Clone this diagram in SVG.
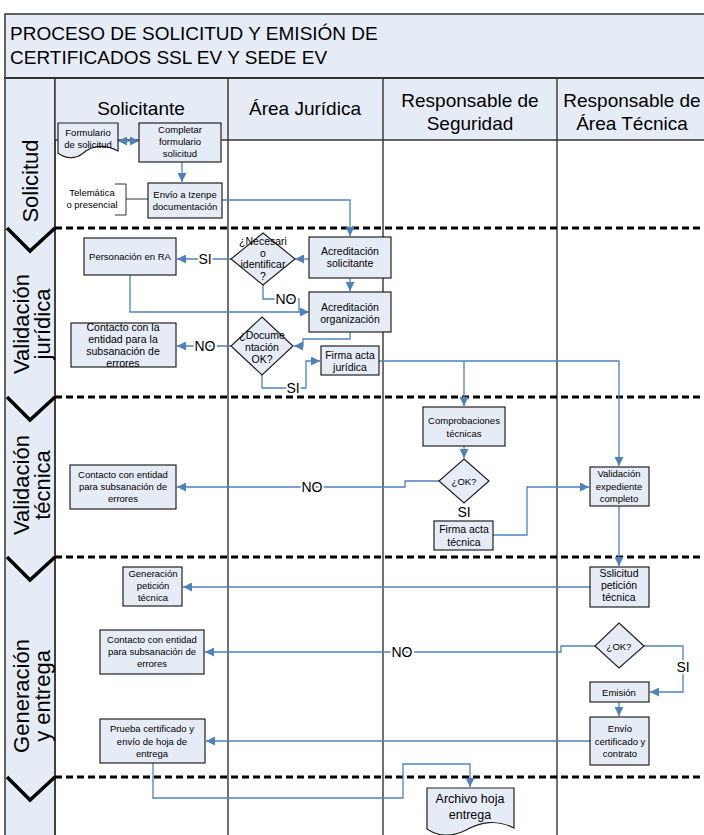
<svg xmlns="http://www.w3.org/2000/svg" width="704" height="835" viewBox="0 0 704 835">
<style>
text{font-family:"Liberation Sans",Arial,sans-serif;fill:#000}
.n{fill:#E6ECF6;stroke:#222;stroke-width:1.2}
.t{font-size:9.5px;text-anchor:middle}
.t10{font-size:10.5px;text-anchor:middle}
.c{fill:none;stroke:#4F81BD;stroke-width:1.3}
.lbl{font-size:14px;text-anchor:middle;stroke:#fff;stroke-width:4;paint-order:stroke;stroke-linejoin:round}
.dash{stroke:#000;stroke-width:3.2;stroke-dasharray:7 4;fill:none}
.col{stroke:#333;stroke-width:1.4}
.chev{fill:none;stroke:#000;stroke-width:3.5}
.hdr{font-size:19px;text-anchor:middle}
.stage{font-size:22px;text-anchor:middle}
</style>
<defs>
<marker id="a" viewBox="0 0 10 10" refX="10" refY="5" markerWidth="9" markerHeight="9" markerUnits="userSpaceOnUse" orient="auto-start-reverse">
<path d="M0,0 L10,5 L0,10 z" fill="#4F81BD"/>
</marker>
</defs>
<rect x="0" y="0" width="704" height="835" fill="#fff"/>
<g id="frame">
<rect x="5" y="14" width="705" height="64" fill="#E6ECF6" stroke="#333" stroke-width="1.5"/>
<text x="10" y="40" style="font-size:19px">PROCESO DE SOLICITUD Y EMISIÓN DE</text>
<text x="10" y="64" style="font-size:19px">CERTIFICADOS SSL EV Y SEDE EV</text>
<rect x="5" y="78" width="50" height="760" fill="#E6ECF6" stroke="#333" stroke-width="1.5"/>
<rect x="55" y="78" width="655" height="62" fill="#E6ECF6"/>
<line x1="5" y1="78" x2="704" y2="78" stroke="#333" stroke-width="2"/>
<line x1="55" y1="140" x2="704" y2="140" class="col"/>
<line x1="55" y1="78" x2="55" y2="835" class="col"/>
<line x1="228" y1="78" x2="228" y2="835" class="col"/>
<line x1="383" y1="78" x2="383" y2="835" class="col"/>
<line x1="557" y1="78" x2="557" y2="835" class="col"/>
<text x="141" y="115" class="hdr">Solicitante</text>
<text x="305" y="115" class="hdr">Área Jurídica</text>
<text x="470" y="107" class="hdr">Responsable de</text>
<text x="470" y="130" class="hdr">Seguridad</text>
<text x="632" y="107" class="hdr">Responsable de</text>
<text x="632" y="130" class="hdr">Área Técnica</text>
<line x1="55" y1="228" x2="704" y2="228" class="dash"/>
<line x1="55" y1="397" x2="704" y2="397" class="dash"/>
<line x1="55" y1="557" x2="704" y2="557" class="dash"/>
<line x1="55" y1="777" x2="704" y2="777" class="dash"/>
<path class="chev" d="M7,228 L30,251 L55,228"/>
<path class="chev" d="M7,397 L30,420 L55,397"/>
<path class="chev" d="M7,557 L30,580 L55,557"/>
<path class="chev" d="M7,777 L30,800 L55,777"/>
<text class="stage" transform="translate(38,181) rotate(-90)">Solicitud</text>
<text class="stage" transform="translate(29,324) rotate(-90)"><tspan x="0" dy="0">Validación</tspan><tspan x="0" dy="21">jurídica</tspan></text>
<text class="stage" transform="translate(29,485) rotate(-90)"><tspan x="0" dy="0">Validación</tspan><tspan x="0" dy="21">técnica</tspan></text>
<text class="stage" transform="translate(29,696) rotate(-90)"><tspan x="0" dy="0">Generación</tspan><tspan x="0" dy="21">y entrega</tspan></text>
</g>
<g id="connectors">
<path class="c" d="M118,141 H139" marker-start="url(#a)" marker-end="url(#a)"/>
<path class="c" d="M182,162 V182" marker-end="url(#a)"/>
<path class="c" d="M222,200 H350 V236" marker-end="url(#a)"/>
<path class="c" d="M309,259 H295" marker-end="url(#a)"/>
<path class="c" d="M231,259 H177" marker-end="url(#a)"/>
<path class="c" d="M130,275 V312 H309" marker-end="url(#a)"/>
<path class="c" d="M263,285 V299 H299 V312"/>
<path class="c" d="M350,278 V291" marker-end="url(#a)"/>
<path class="c" d="M350,332 V339 H303 V346 H294" marker-end="url(#a)"/>
<path class="c" d="M231,346 H177" marker-end="url(#a)"/>
<path class="c" d="M262,375 V388 H306 V361 H320" marker-end="url(#a)"/>
<path class="c" d="M379,361 H619 V466" marker-end="url(#a)"/>
<path class="c" d="M464,361 V406" marker-end="url(#a)"/>
<path class="c" d="M464,446 V458" marker-end="url(#a)"/>
<path class="c" d="M439,481 H405 V487 H177" marker-end="url(#a)"/>
<path class="c" d="M493,535 H527 V487 H589" marker-end="url(#a)"/>
<path class="c" d="M619,506 V566" marker-end="url(#a)"/>
<path class="c" d="M590,587 H183" marker-end="url(#a)"/>
<path class="c" d="M595,646 H561 V652 H205" marker-end="url(#a)"/>
<path class="c" d="M644,646 H683 V692 H650" marker-end="url(#a)"/>
<path class="c" d="M619,702 V716" marker-end="url(#a)"/>
<path class="c" d="M590,741 H206" marker-end="url(#a)"/>
<path class="c" d="M153,763 V798 H403 V764 H470 V787" marker-end="url(#a)"/>
<path d="M126,199 H148" stroke="#333" stroke-width="1" fill="none"/>
<text x="205" y="264" class="lbl">SI</text>
<text x="286" y="304" class="lbl">NO</text>
<text x="205" y="351" class="lbl">NO</text>
<text x="293" y="393" class="lbl">SI</text>
<text x="312" y="492" class="lbl">NO</text>
<text x="464" y="517" class="lbl">SI</text>
<text x="402" y="657" class="lbl">NO</text>
<text x="683" y="672" class="lbl">SI</text>
</g>
<g id="formulario">
<path class="n" d="M58,123 H118 V151 C102,143 90,147 82,154 C74,160 64,158 58,153 Z"/>
<text x="88" y="136" class="t">Formulario</text>
<text x="88" y="148" class="t">de solicitud</text>
</g>
<g id="completar">
<rect class="n" x="139" y="123" width="82" height="39"/>
<text x="180" y="133" class="t">Completar</text>
<text x="180" y="145" class="t">formulario</text>
<text x="180" y="157" class="t">solicitud</text>
</g>
<g id="telematica">
<path d="M115,184 H126 V215 H115" stroke="#333" stroke-width="1" fill="none"/>
<text x="92" y="196" class="t">Telemática</text>
<text x="92" y="208" class="t">o presencial</text>
</g>
<g id="envio">
<rect class="n" x="148" y="183" width="74" height="35"/>
<text x="185" y="198" class="t">Envío a Izenpe</text>
<text x="185" y="210" class="t">documentación</text>
</g>
<g id="acred-sol">
<rect class="n" x="309" y="237" width="82" height="41"/>
<text x="350" y="255" class="t10">Acreditación</text>
<text x="350" y="267" class="t10">solicitante</text>
</g>
<g id="dec-identificar">
<polygon class="n" points="263,233 295,259 263,285 231,259"/>
<text x="263" y="245" class="t10">¿Necesari</text>
<text x="263" y="257" class="t10">o</text>
<text x="263" y="268" class="t10">identificar</text>
<text x="263" y="280" class="t10">?</text>
</g>
<g id="personacion">
<rect class="n" x="84" y="238" width="92" height="37"/>
<text x="130" y="260" class="t">Personación en RA</text>
</g>
<g id="acred-org">
<rect class="n" x="309" y="292" width="82" height="40"/>
<text x="350" y="311" class="t10">Acreditación</text>
<text x="350" y="323" class="t10">organización</text>
</g>
<g id="dec-documentacion">
<polygon class="n" points="262,317 293,346 262,375 231,346"/>
<text x="262" y="339" class="t10">¿Docume</text>
<text x="262" y="351" class="t10">ntación</text>
<text x="262" y="363" class="t10">OK?</text>
</g>
<g id="contacto-juridica">
<rect class="n" x="71" y="323" width="105" height="44"/>
<text x="123" y="331" class="t10">Contacto con la</text>
<text x="123" y="343" class="t10">entidad para la</text>
<text x="123" y="355" class="t10">subsanación de</text>
<text x="123" y="367" class="t10">errores</text>
</g>
<g id="firma-juridica">
<rect class="n" x="321" y="346" width="58" height="29"/>
<text x="350" y="359" class="t10">Firma acta</text>
<text x="350" y="371" class="t10">jurídica</text>
</g>
<g id="comprobaciones">
<rect class="n" x="423" y="407" width="82" height="39"/>
<text x="464" y="424" class="t">Comprobaciones</text>
<text x="464" y="437" class="t">técnicas</text>
</g>
<g id="dec-ok-tec">
<polygon class="n" points="464,459 489,481 464,503 439,481"/>
<text x="464" y="485" class="t">¿OK?</text>
</g>
<g id="firma-tecnica">
<rect class="n" x="434" y="521" width="59" height="29"/>
<text x="464" y="533" class="t10">Firma acta</text>
<text x="464" y="546" class="t10">técnica</text>
</g>
<g id="validacion-exp">
<rect class="n" x="590" y="467" width="59" height="39"/>
<text x="619" y="477" class="t">Validación</text>
<text x="619" y="490" class="t">expediente</text>
<text x="619" y="502" class="t">completo</text>
</g>
<g id="contacto-tecnica">
<rect class="n" x="70" y="465" width="106" height="44"/>
<text x="123" y="478" class="t">Contacto con entidad</text>
<text x="123" y="490" class="t">para subsanación de</text>
<text x="123" y="502" class="t">errores</text>
</g>
<g id="generacion">
<rect class="n" x="123" y="567" width="59" height="39"/>
<text x="153" y="577" class="t">Generación</text>
<text x="153" y="589" class="t">petición</text>
<text x="153" y="601" class="t">técnica</text>
</g>
<g id="sslicitud">
<rect class="n" x="590" y="567" width="59" height="40"/>
<text x="619" y="577" class="t10">Sslicitud</text>
<text x="619" y="589" class="t10">petición</text>
<text x="619" y="601" class="t10">técnica</text>
</g>
<g id="contacto-gen">
<rect class="n" x="100" y="630" width="104" height="44"/>
<text x="152" y="643" class="t">Contacto con entidad</text>
<text x="152" y="655" class="t">para subsanación de</text>
<text x="152" y="667" class="t">errores</text>
</g>
<g id="dec-ok-gen">
<polygon class="n" points="619,623 644,646 619,668 595,646"/>
<text x="619" y="650" class="t">¿OK?</text>
</g>
<g id="emision">
<rect class="n" x="590" y="682" width="59" height="20"/>
<text x="619" y="696" class="t">Emisión</text>
</g>
<g id="envio-cert">
<rect class="n" x="590" y="717" width="59" height="48"/>
<text x="620" y="732" class="t">Envío</text>
<text x="620" y="745" class="t">certificado y</text>
<text x="620" y="757" class="t">contrato</text>
</g>
<g id="prueba">
<rect class="n" x="100" y="719" width="105" height="44"/>
<text x="152" y="732" class="t">Prueba certificado y</text>
<text x="152" y="745" class="t">envío de hoja de</text>
<text x="152" y="757" class="t">entrega</text>
</g>
<g id="archivo">
<path class="n" d="M427,788 H514 V828 C496,819 481,822 466,830 C451,838 437,836 427,829 Z"/>
<text x="470" y="803" style="font-size:12.5px;text-anchor:middle">Archivo hoja</text>
<text x="470" y="819" style="font-size:12.5px;text-anchor:middle">entrega</text>
</g>
</svg>
